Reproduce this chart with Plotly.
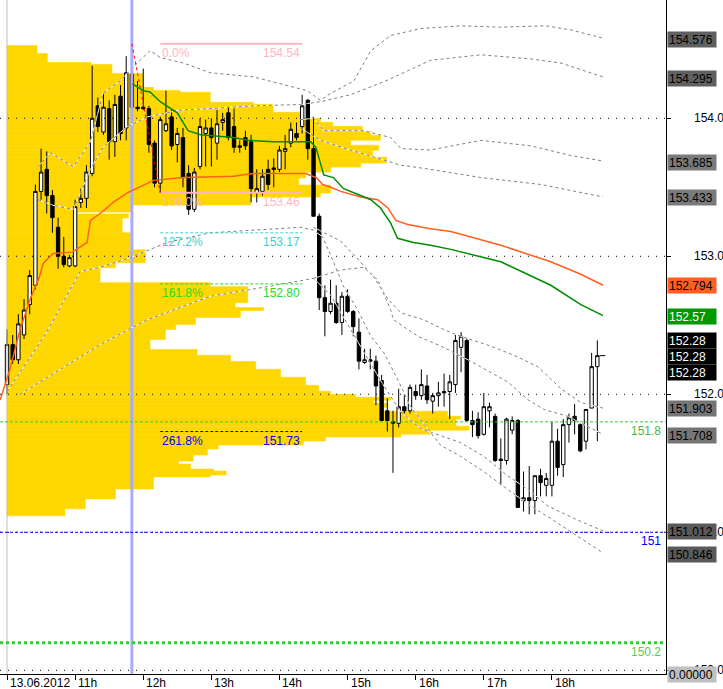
import plotly.graph_objects as go

# ---------------- data ----------------
tick_bars = [0, 12, 24, 36, 48, 60, 72, 84, 96]
tick_labels = ["13.06.2012", "11h", "12h", "13h", "14h", "15h", "16h", "17h", "18h"]

opens = [152.07,152.36,152.25,152.43,152.65,152.79,153.47,153.63,153.44,153.21,
153.00,152.93,152.93,153.39,153.42,153.60,154.09,153.90,154.07,153.83,
154.16,153.93,154.32,154.08,154.08,154.07,153.82,153.53,153.91,154.01,
153.81,153.86,153.60,153.34,153.65,153.89,153.93,153.82,153.97,154.04,
153.94,153.79,153.86,153.83,153.46,153.47,153.63,153.64,153.63,153.76,
153.82,153.89,153.94,154.13,153.78,153.29,152.70,152.60,152.66,152.52,
152.71,152.60,152.45,152.23,152.25,152.24,152.10,151.88,151.79,151.79,
151.91,151.88,152.02,151.99,152.06,151.95,151.99,152.02,152.02,152.07,
152.34,152.39,151.81,151.82,151.71,151.88,151.84,151.53,151.52,151.74,
151.81,151.23,151.25,151.23,151.41,151.34,151.34,151.66,151.49,151.78,
151.84,151.78,151.66,151.90,152.20]
highs = [152.47,152.43,152.58,152.69,152.90,153.52,153.78,153.76,153.48,153.28,
153.14,153.01,153.41,153.49,153.66,154.38,154.15,154.18,154.13,154.17,
154.24,154.45,154.54,154.27,154.36,154.09,153.84,154.01,154.20,154.06,
153.93,153.93,153.66,153.64,154.00,153.99,154.00,154.06,154.04,154.08,
154.07,153.84,153.91,153.88,153.63,153.63,153.70,153.71,153.80,153.88,
153.97,153.97,154.17,154.14,154.01,153.31,152.79,152.83,152.79,152.74,
152.76,152.61,152.55,152.33,152.33,152.28,152.14,151.97,151.88,152.04,
152.00,152.07,152.07,152.18,152.14,152.01,152.09,152.15,152.14,152.43,
152.45,152.41,151.88,151.87,152.01,151.94,151.86,151.68,151.83,151.84,
151.82,151.44,151.48,151.41,151.46,151.43,151.80,151.75,151.82,151.86,
151.93,151.79,151.89,152.30,152.39]
lows = [152.00,152.22,152.22,152.40,152.58,152.76,153.41,153.31,153.17,152.91,
152.92,152.92,152.92,153.35,153.35,153.58,153.90,153.88,153.70,153.72,
153.84,153.84,154.08,154.05,154.06,153.75,153.50,153.46,153.90,153.77,
153.68,153.50,153.30,153.32,153.63,153.65,153.65,153.70,153.91,153.84,
153.75,153.75,153.77,153.39,153.39,153.44,153.48,153.50,153.61,153.63,
153.79,153.84,153.89,153.70,153.29,152.61,152.42,152.58,152.51,152.43,
152.59,152.42,152.18,152.22,152.18,151.92,151.81,151.73,151.43,151.76,
151.86,151.86,151.96,151.96,151.93,151.86,151.91,151.91,151.82,152.01,
152.16,151.80,151.69,151.68,151.70,151.76,151.51,151.34,151.49,151.71,
151.18,151.15,151.13,151.13,151.26,151.26,151.26,151.41,151.40,151.65,
151.71,151.58,151.60,151.90,151.66]
closes = [152.36,152.25,152.51,152.61,152.86,153.47,153.61,153.44,153.28,153.00,
152.94,152.99,153.36,153.42,153.61,154.00,153.94,154.08,153.83,154.10,
153.89,154.33,154.08,154.07,154.07,153.81,153.53,153.99,153.96,153.80,
153.89,153.57,153.34,153.61,153.94,153.93,153.86,153.96,153.99,153.86,
153.79,153.80,153.80,153.49,153.49,153.58,153.52,153.63,153.77,153.78,
153.92,153.86,154.09,153.78,153.29,152.70,152.60,152.66,152.52,152.71,
152.60,152.49,152.24,152.25,152.24,152.06,151.81,151.81,151.80,151.91,
151.88,152.05,151.99,152.07,151.96,151.99,152.01,152.01,152.09,152.39,
152.42,151.81,151.78,151.70,151.91,151.91,151.52,151.52,151.82,151.81,
151.18,151.25,151.23,151.41,151.36,151.39,151.66,151.47,151.78,151.83,
151.81,151.59,151.89,152.20,152.28]
bar_index = list(range(len(opens)))

# volume profile: price boundaries of rows (top to bottom) and row volume (in bar units)
profile_edges = [154.527,154.469,154.404,154.390,154.325,154.224,154.202,154.188,154.116,154.101,
154.043,154.000,153.971,153.942,153.906,153.877,153.841,153.805,153.769,153.718,
153.675,153.646,153.610,153.567,153.516,153.458,153.430,153.372,153.321,153.307,
153.278,153.170,153.047,152.953,152.917,152.809,152.780,152.664,152.628,152.607,
152.556,152.505,152.469,152.397,152.325,152.282,152.238,152.181,152.123,152.065,
152.022,152.000,151.978,151.957,151.935,151.906,151.877,151.841,151.820,151.769,
151.740,151.711,151.690,151.661,151.632,151.603,151.560,151.516,151.495,151.458,
151.444,151.415,151.401,151.314,151.242,151.170,151.119]
profile_volume = [5.3,7.1,14.8,18.5,24.0,25.8,30.5,35.8,43.4,46.9,
51.7,55.2,57.4,62.6,64.1,65.8,60.5,65.5,64.4,66.9,
62.3,57.0,52.6,51.4,57.0,55.2,42.9,22.1,12.4,21.4,
20.3,21.7,24.4,19.1,16.4,35.8,42.4,40.2,45.2,41.1,
33.2,29.7,27.9,25.2,33.5,39.4,43.8,48.2,52.6,54.9,
57.0,61.4,67.6,64.6,67.1,65.8,77.6,79.9,79.1,81.4,
74.6,69.4,56.1,52.2,37.2,35.3,32.8,30.2,32.3,36.4,
38.6,35.8,25.8,19.1,13.8,10.2]

# moving averages (bar position, price)
green_bar = [22.1,24.0,25.2,27.0,30.0,31.9,34.1,39.9,42.4,46.9,53.5,54.4,54.9,55.8,57.5,59.3,62.3,64.1,65.8,67.6,68.8,71.6,74.6,78.2,87.0,95.8,101.1,105.0]
green_val = [154.25,154.20,154.19,154.12,154.04,153.91,153.88,153.86,153.84,153.83,153.83,153.79,153.72,153.59,153.57,153.49,153.44,153.41,153.35,153.24,153.13,153.10,153.08,153.05,152.96,152.79,152.65,152.57]
orange_bar = [-1.2,0.5,2.3,4.1,5.7,6.4,8.1,11.5,14.1,14.7,16.4,18.7,21.2,22.2,25.8,31.1,39.9,43.4,52.6,54.5,55.6,57.0,58.8,62.3,65.3,67.1,68.5,70.6,72.9,74.6,78.2,87.0,95.8,101.1,105.0]
orange_val = [151.96,152.18,152.47,152.69,152.85,152.95,153.02,153.03,153.10,153.26,153.31,153.39,153.46,153.48,153.55,153.57,153.58,153.60,153.60,153.57,153.52,153.50,153.47,153.43,153.41,153.35,153.26,153.23,153.21,153.20,153.18,153.08,152.96,152.87,152.79]

# envelope bands (bar position, price)
bandA_bar = [5.5,7.6,11.7,14.7,16.9,19.9,22.2,25.2,27.0,31.1,35.8,43.4,52.9,55.2,57.0,61.1,64.1,67.6,72.9,79.9,87.0,94.9,99.4,105.0]
bandA_val = [153.65,153.75,153.65,153.83,154.18,154.27,154.37,154.49,154.44,154.40,154.33,154.30,154.20,154.13,154.18,154.27,154.49,154.60,154.65,154.67,154.66,154.67,154.64,154.58]
bandB_bar = [5.5,8.1,11.7,14.7,16.9,21.2,24.7,30.5,35.8,43.4,51.7,55.2,60.5,66.7,74.6,83.5,92.3,97.6,105.0]
bandB_val = [153.41,153.37,153.34,153.63,153.79,153.94,154.01,154.06,154.07,154.09,154.10,154.12,154.17,154.27,154.42,154.46,154.43,154.40,154.30]
bandC_bar = [51.7,54.0,55.8,62.8,67.6,69.4,74.6,83.5,92.3,99.4,105.0]
bandC_val = [153.99,154.00,153.91,153.91,153.86,153.78,153.77,153.84,153.80,153.73,153.69]
bandD_bar = [51.7,55.2,60.5,69.4,74.6,83.5,94.1,105.0]
bandD_val = [153.93,153.84,153.77,153.66,153.63,153.57,153.52,153.43]
bandE_bar = [54.0,58.8,61.8,64.6,67.1,69.4,73.4,76.9,79.9,85.2,90.0,93.5,97.6,101.1,105.0]
bandE_val = [153.21,153.11,152.98,152.85,152.69,152.59,152.54,152.47,152.42,152.35,152.27,152.20,152.04,151.94,151.90]
bandF_bar = [54.0,58.8,62.8,65.3,67.6,68.1,72.4,76.4,81.2,85.2,88.2,91.8,94.6,98.8,105.0]
bandF_val = [152.84,152.90,152.92,152.83,152.61,152.54,152.42,152.35,152.25,152.16,152.09,151.96,151.89,151.84,151.71]
bandG_bar = [2.3,9.4,16.4,24.7,35.8,45.9,54.0,57.0,60.5,64.1,66.4,69.4,72.9,76.4,79.9,84.0,88.2,91.8,95.3,99.9,105.0]
bandG_val = [152.00,152.18,152.36,152.54,152.71,152.78,152.84,152.72,152.47,152.22,152.06,151.87,151.75,151.70,151.65,151.55,151.41,151.31,151.19,151.10,151.01]
bandH_bar = [0.0,3.2,6.7,10.2,12.9,16.4,21.7,28.2,35.8,51.7,54.0,55.6,57.0,59.3,61.8,64.1,66.4,68.8,71.1,74.1,76.4,79.9,84.0,88.2,92.3,95.8,105.0]
bandH_val = [152.02,152.22,152.43,152.69,152.89,152.92,152.99,153.10,153.17,153.21,153.19,153.14,153.01,152.78,152.61,152.42,152.30,152.11,151.91,151.75,151.63,151.55,151.44,151.31,151.19,151.10,150.85]

# fibonacci
fib_levels = [154.54, 153.46, 153.17, 152.80, 151.73]
fib_names = ["0.0%", "100.0%", "127.2%", "161.8%", "261.8%"]
fib_texts = ["154.54", "153.46", "153.17", "152.80", "151.73"]
fib_start, fib_end = 27, 52
fib_trend_bar = [22, 27]
fib_trend_val = [154.54, 153.46]

# horizontal levels
level_vals = [151.8, 151.0, 150.2]
level_texts = ["151.8", "151", "150.2"]

# price scale
grid_vals = [154.0, 153.0, 152.0, 151.0, 150.0]
grid_texts = ["154.0", "153.0", "152.0", "151.0", "150.0"]
marker_vals = [154.576, 154.295, 153.685, 153.433, 152.794, 152.57, 152.28, 152.28, 152.28,
               151.903, 151.708, 151.012, 150.846, 150.0]
marker_texts = ["154.576", "154.295", "153.685", "153.433", "152.794", "152.57", "152.28", "152.28", "152.28",
                "151.903", "151.708", "151.012", "150.846", "0.00000"]
vline_bar = 22

# ---------------- styling ----------------
W, H = 723, 689
ML, MR, MT, MB = 0, 57, 0, 15
PW = W - ML - MR
X0, X1 = -1.235, 116.1
Y0, Y1 = 149.973, 154.857
FONT = "Liberation Sans, Arial, sans-serif"

def px(xpix):
    return xpix / PW

fig = go.Figure()

centers = [(profile_edges[i] + profile_edges[i + 1]) / 2 for i in range(len(profile_volume))]
heights = [profile_edges[i] - profile_edges[i + 1] for i in range(len(profile_volume))]
fig.add_trace(go.Bar(orientation="h", y=centers, x=profile_volume, width=heights, base=0,
                     marker=dict(color="#FFD700", line=dict(width=0.6, color="#FFD700")), hoverinfo="skip"))

# vertical separators
fig.add_trace(go.Scatter(x=[0, 0], y=[Y0, Y1], mode="lines", line=dict(color="#c0c0c0", width=1), hoverinfo="skip"))
fig.add_trace(go.Scatter(x=[vline_bar, vline_bar], y=[Y0, Y1], mode="lines", line=dict(color="#aaaaff", width=3), hoverinfo="skip"))

# grid dotted lines
for g in grid_vals:
    fig.add_trace(go.Scatter(x=[X0, X1], y=[g, g], mode="lines", line=dict(color="black", width=1, dash="1px,7px"), hoverinfo="skip"))

# level lines
fig.add_trace(go.Scatter(x=[X0, X1], y=[level_vals[0]] * 2, mode="lines", line=dict(color="#33cc33", width=1, dash="3px,2px"), hoverinfo="skip"))
fig.add_trace(go.Scatter(x=[X0, X1], y=[level_vals[1]] * 2, mode="lines", line=dict(color="#0000ff", width=1, dash="3px,2px"), hoverinfo="skip"))
fig.add_trace(go.Scatter(x=[X0, X1], y=[level_vals[2]] * 2, mode="lines", line=dict(color="#33cc33", width=3, dash="3px,3px"), hoverinfo="skip"))

# candles
fig.add_trace(go.Candlestick(x=bar_index, open=opens, high=highs, low=lows, close=closes,
                             increasing=dict(fillcolor="white", line=dict(color="black", width=1)),
                             decreasing=dict(fillcolor="black", line=dict(color="black", width=1)),
                             whiskerwidth=0, hoverinfo="skip"))
# last price tick
fig.add_trace(go.Scatter(x=[bar_index[-1] + 0.4, bar_index[-1] + 1.4], y=[closes[-1], closes[-1]], mode="lines",
                         line=dict(color="black", width=1), hoverinfo="skip"))

# bands
for bx, bv in [(bandA_bar, bandA_val), (bandB_bar, bandB_val), (bandC_bar, bandC_val), (bandD_bar, bandD_val),
               (bandE_bar, bandE_val), (bandF_bar, bandF_val), (bandG_bar, bandG_val), (bandH_bar, bandH_val)]:
    fig.add_trace(go.Scatter(x=bx, y=bv, mode="lines", line=dict(color="white", width=1), hoverinfo="skip"))
    fig.add_trace(go.Scatter(x=bx, y=bv, mode="lines", line=dict(color="#808080", width=1, dash="3px,3px"), hoverinfo="skip"))

# moving averages
fig.add_trace(go.Scatter(x=orange_bar, y=orange_val, mode="lines", line=dict(color="#ff6020", width=1.5), hoverinfo="skip"))
fig.add_trace(go.Scatter(x=green_bar, y=green_val, mode="lines", line=dict(color="#008c00", width=1.5), hoverinfo="skip"))

# fibonacci
fib_colors = ["#ffb6c1", "#ffb6c1", "#40d0d0", "#22dd22", "#0000ff"]
fib_dash = ["solid", "solid", "3px,2px", "3px,2px", "3px,2px"]
fib_width = [2, 2, 1, 1, 1]
for lv, c, d, w in zip(fib_levels, fib_colors, fib_dash, fib_width):
    fig.add_trace(go.Scatter(x=[fib_start, fib_end], y=[lv, lv], mode="lines", line=dict(color=c, width=w, dash=d), hoverinfo="skip"))
fig.add_trace(go.Scatter(x=fib_trend_bar, y=fib_trend_val, mode="lines", line=dict(color="red", width=1, dash="3px,3px"), hoverinfo="skip"))

ann = []
for lv, nm, tx, c in zip(fib_levels, fib_names, fib_texts, fib_colors):
    ann.append(dict(x=fib_start, y=lv, xref="x", yref="y", text=nm, showarrow=False, xanchor="left", yanchor="top",
                    font=dict(family=FONT, size=12, color=c), xshift=0, yshift=0))
    ann.append(dict(x=fib_end, y=lv, xref="x", yref="y", text=tx, showarrow=False, xanchor="right", yanchor="top",
                    font=dict(family=FONT, size=12, color=c), yshift=0))

level_colors = ["#44bb44", "#0000ff", "#55cc55"]
for lv, tx, c in zip(level_vals, level_texts, level_colors):
    ann.append(dict(x=px(663), y=lv, xref="paper", yref="y", text=tx, showarrow=False, xanchor="right", yanchor="top",
                    font=dict(family=FONT, size=12, color=c)))

for tb, tl in zip(tick_bars, tick_labels):
    ann.append(dict(x=tb, y=0, xref="x", yref="paper", text=tl, showarrow=False, xanchor="left", yanchor="top",
                    xshift=1, yshift=0, font=dict(family=FONT, size=12, color="black")))

for g, t in zip(grid_vals, grid_texts):
    ann.append(dict(x=px(692), y=g, xref="paper", yref="y", text=t, showarrow=False, xanchor="left", yanchor="middle",
                    font=dict(family=FONT, size=12, color="black")))

marker_bg = ["#606060", "#606060", "#7a7a7a", "#7a7a7a", "#ff6020", "#009900", "black", "black", "black",
             "#757575", "#757575", "#5a5a5a", "#5a5a5a", "#c0c0c0"]
marker_fg = ["black", "black", "black", "black", "black", "white", "white", "white", "white",
             "black", "black", "black", "black", "black"]
marker_shift = [-1, -1, -1, -1, -1, -1, 15, -1, -17, -1, -1, -1, -1, -4]
for v, t, bg, fg, sh in zip(marker_vals, marker_texts, marker_bg, marker_fg, marker_shift):
    ann.append(dict(x=px(667), y=v, xref="paper", yref="y", text=t, showarrow=False, xanchor="left", yanchor="middle",
                    yshift=sh, bgcolor=bg, borderpad=1, width=46, height=13, align="left",
                    font=dict(family=FONT, size=12, color=fg)))

fig.update_layout(
    width=W, height=H, margin=dict(l=ML, r=MR, t=MT, b=MB),
    paper_bgcolor="white", plot_bgcolor="white", showlegend=False, boxgap=0.15,
    annotations=ann,
    xaxis=dict(range=[X0, X1], showgrid=False, zeroline=False, showline=True, linecolor="black", linewidth=1,
               ticks="outside", tickvals=tick_bars, ticklen=5, tickcolor="black", showticklabels=False,
               rangeslider=dict(visible=False), fixedrange=True),
    yaxis=dict(range=[Y0, Y1], side="right", showgrid=False, zeroline=False, showline=True, linecolor="black",
               linewidth=1, ticks="outside", tickvals=grid_vals, ticklen=4, tickcolor="black",
               showticklabels=False, fixedrange=True),
)

fig.write_html("out.html", config={"displayModeBar": False},
               post_script="document.body.style.margin='0';document.body.style.overflow='hidden';")
